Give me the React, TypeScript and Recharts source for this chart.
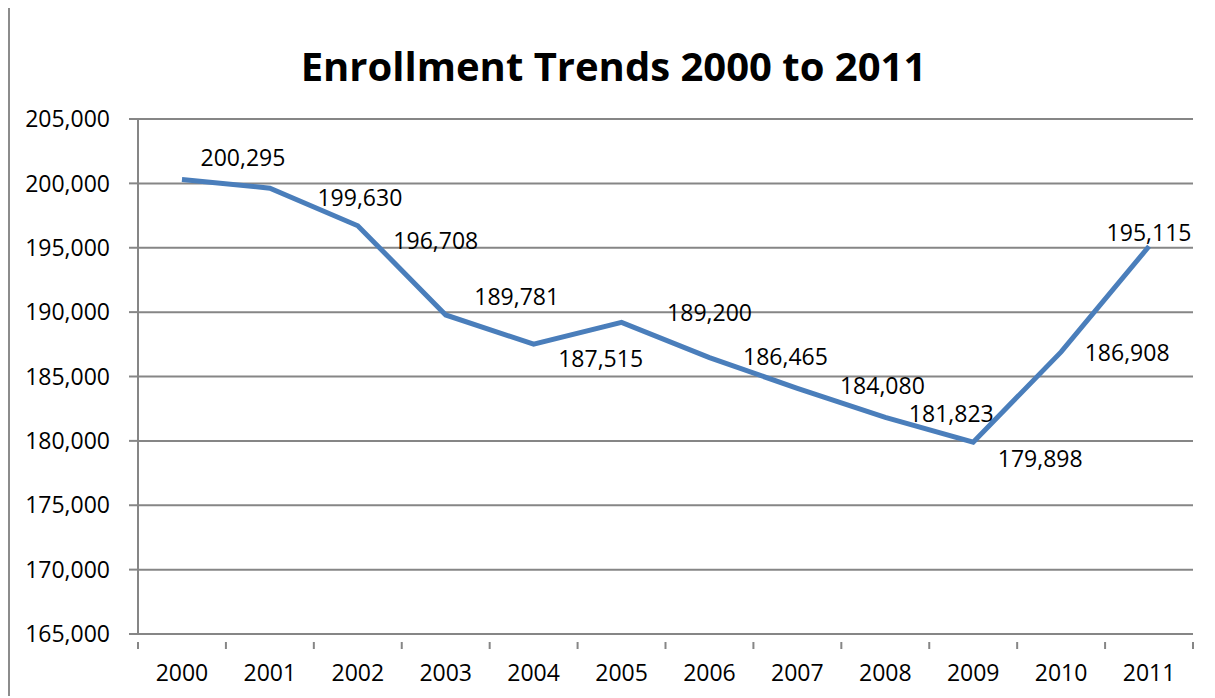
import React from "react";
import { LineChart, Line, XAxis, YAxis, CartesianGrid } from "recharts";

const years = ["2000", "2001", "2002", "2003", "2004", "2005", "2006", "2007", "2008", "2009", "2010", "2011"];
const enrollment = [200295, 199630, 196708, 189781, 187515, 189200, 186465, 184080, 181823, 179898, 186908, 195115];
const yTicks = [165000, 170000, 175000, 180000, 185000, 190000, 195000, 200000, 205000];

// where each data label sits relative to its point (Excel placed them by hand)
const labelOffsets = [
  [61, -23], [90, 9], [78, 14], [71, -19], [67, 14], [88, -10],
  [76, -2], [85, -3], [66, -4], [67, 16], [66, 0], [0, -14],
];

const data = years.map((year, i) => ({ year, value: enrollment[i] }));

const CHART_W = 1207;
const CHART_H = 690;
const MARGIN = { top: 111, right: 22, left: 0, bottom: 14 };
const Y_W = 130;
const PLOT_W = CHART_W - MARGIN.left - MARGIN.right - Y_W;
const BAND = PLOT_W / years.length;

const FONT = "'Open Sans', sans-serif";
const FS = 23;
const fmt = (v: number) => v.toLocaleString("en-US");

const YearTick = (props: any) => {
  const { x, y, payload, index } = props;
  const left = x - BAND / 2;
  return (
    <g>
      <line x1={left} y1={y} x2={left} y2={y + 7} stroke="#868686" strokeWidth={2} />
      {index === years.length - 1 && (
        <line x1={x + BAND / 2} y1={y} x2={x + BAND / 2} y2={y + 7} stroke="#868686" strokeWidth={2} />
      )}
      <text x={x} y={y + 39} textAnchor="middle" fontSize={FS} fontFamily={FONT} fill="#000">
        {payload.value}
      </text>
    </g>
  );
};

const ValueLabel = (props: any) => {
  const { x, y, value, index } = props;
  const [dx, dy] = labelOffsets[index] || [0, 0];
  return (
    <text x={x + dx} y={y + dy} textAnchor="middle" dominantBaseline="central" fontSize={FS} fontFamily={FONT} fill="#000">
      {fmt(value)}
    </text>
  );
};

export default function App() {
  return (
    <div
      style={{
        position: "relative",
        width: CHART_W,
        height: CHART_H,
        marginTop: -2,
        borderLeft: "2px solid #8c8c8c",
        borderTop: "2px solid #8c8c8c",
        boxSizing: "border-box",
        background: "#fff",
      }}
    >
      <div
        style={{
          position: "absolute",
          top: 30,
          left: 0,
          width: CHART_W,
          textAlign: "center",
          fontFamily: FONT,
          fontWeight: 700,
          fontSize: 40,
          color: "#000",
        }}
      >
        Enrollment Trends 2000 to 2011
      </div>
      <div style={{ position: "absolute", left: -2, top: 0 }}>
        <LineChart width={CHART_W} height={CHART_H} data={data} margin={MARGIN}>
          <CartesianGrid vertical={false} stroke="#868686" strokeWidth={2} />
          <XAxis
            dataKey="year"
            axisLine={{ stroke: "#868686", strokeWidth: 2 }}
            tickLine={false}
            tick={<YearTick />}
            interval={0}
            height={50}
            padding={{ left: BAND / 2, right: BAND / 2 }}
          />
          <YAxis
            domain={[165000, 205000]}
            ticks={yTicks}
            width={Y_W}
            tickFormatter={fmt}
            axisLine={{ stroke: "#868686", strokeWidth: 2 }}
            tickLine={{ stroke: "#868686", strokeWidth: 2 }}
            tickSize={9}
            tickMargin={19}
            tick={{ fontSize: FS, fontFamily: FONT, fill: "#000" }}
          />
          <Line
            type="linear"
            dataKey="value"
            stroke="#4A7EBB"
            strokeWidth={5}
            dot={false}
            isAnimationActive={false}
            label={<ValueLabel />}
          />
        </LineChart>
      </div>
    </div>
  );
}
